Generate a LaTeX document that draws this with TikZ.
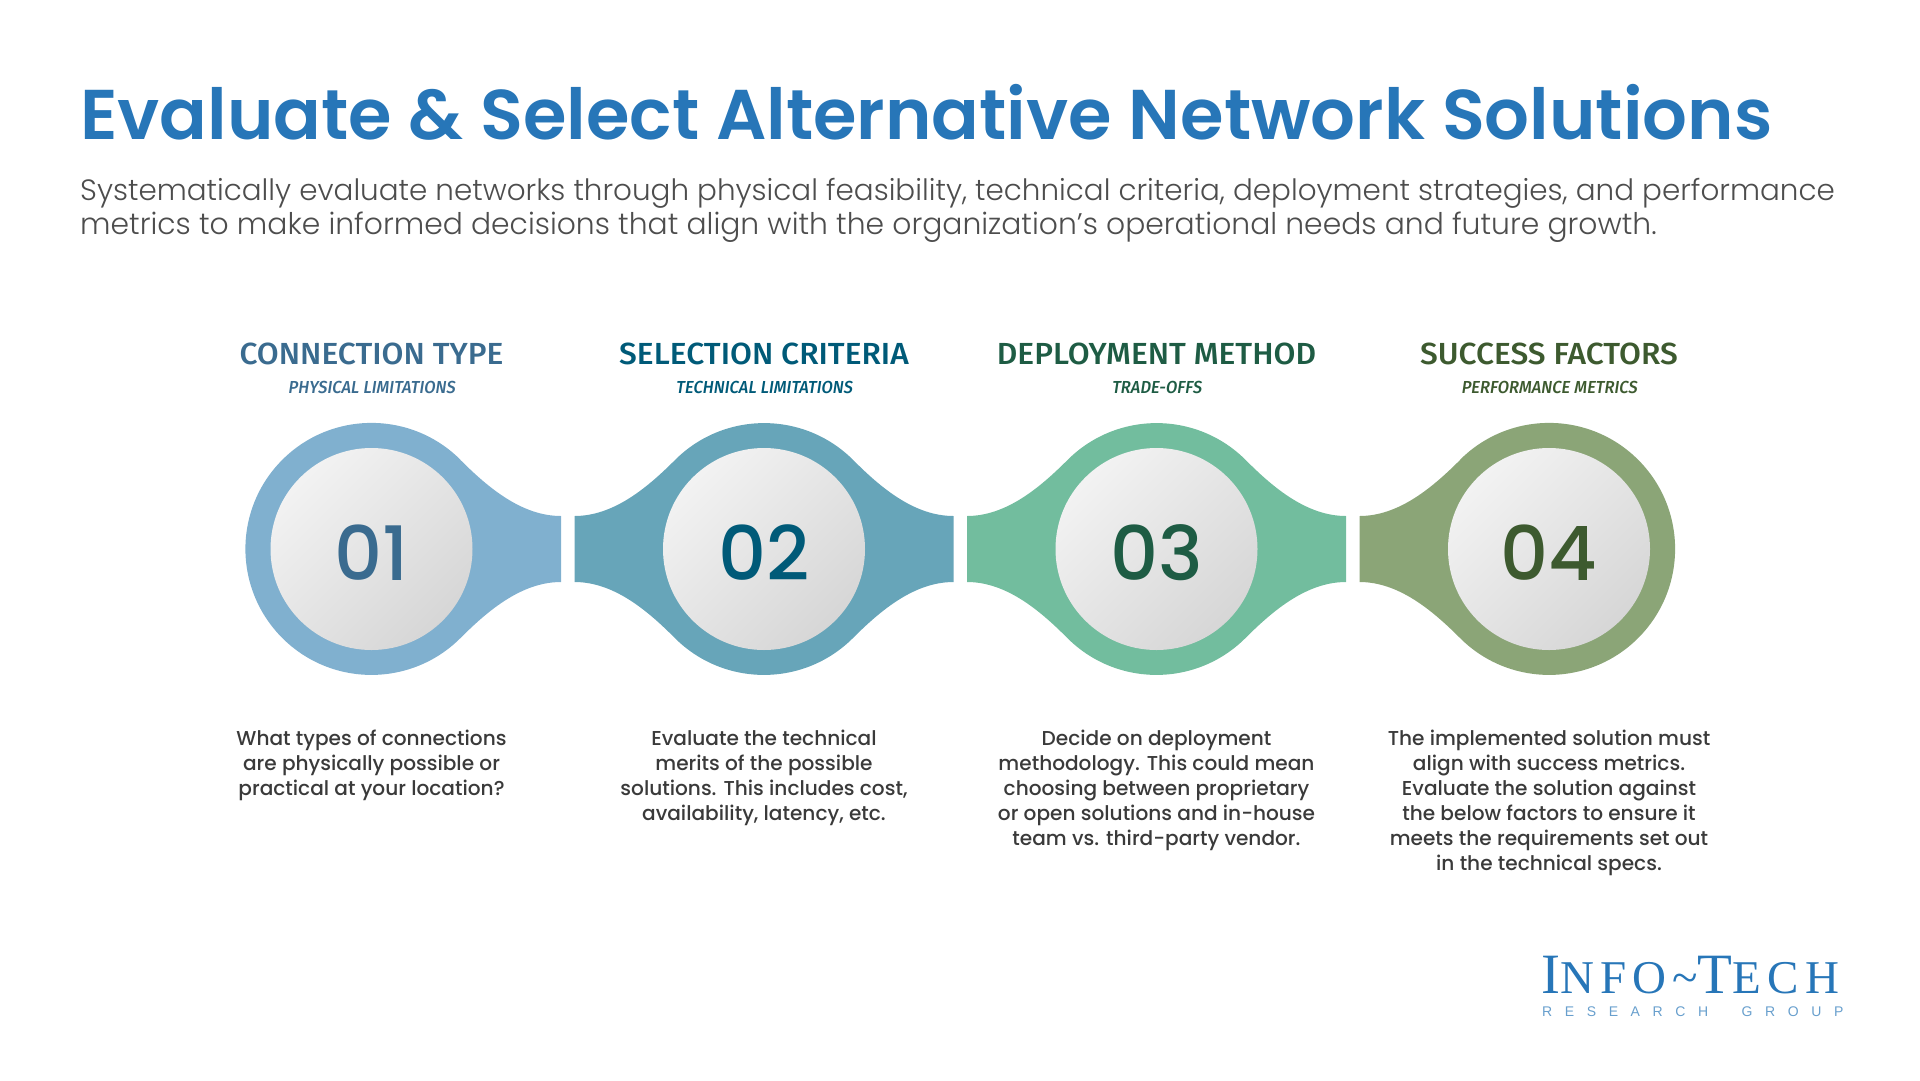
\documentclass[tikz,border=0pt]{standalone}
\usepackage{fontspec}
\newfontfamily\titlefont{Poppins SemiBold}
\newfontfamily\leadfont{Poppins Light}
\newfontfamily\bodyfont{Poppins Medium}
\newfontfamily\numfont{Poppins Medium}
\newfontfamily\headfont[FakeStretch=1.04]{Fira Sans Medium}
\newfontfamily\subfont[FakeStretch=0.94,FakeSlant=0.15]{Fira Sans Medium}
\newfontfamily\logofont[LetterSpace=13]{Liberation Serif}
\newfontfamily\logosub[LetterSpace=90]{Liberation Sans}
\definecolor{titleblue}{HTML}{2776B8}
\definecolor{leadgray}{HTML}{4D4D4D}
\definecolor{bodygray}{HTML}{3A3A3A}
\definecolor{ringa}{HTML}{80B0CF}
\definecolor{ringb}{HTML}{67A5B9}
\definecolor{ringc}{HTML}{72BD9E}
\definecolor{ringd}{HTML}{8BA577}
\definecolor{inka}{HTML}{3A6B8F}
\definecolor{inkb}{HTML}{005A78}
\definecolor{inkc}{HTML}{1E5C44}
\definecolor{inkd}{HTML}{3D5A2F}
\begin{document}
\begin{tikzpicture}[x=1pt,y=1pt]
\tikzstyle{disc}=[circle,inner sep=0pt,minimum size=202pt,top color=gray!10,bottom color=gray!32,shading angle=45]
\tikzstyle{num}=[inner sep=0pt,font=\numfont\fontsize{75}{75}\selectfont]
\tikzstyle{head}=[anchor=base,inner sep=0pt,font=\headfont\fontsize{30.5}{30.5}\selectfont]
\tikzstyle{subhead}=[anchor=base,inner sep=0pt,font=\subfont\fontsize{17.4}{17.4}\selectfont]
\tikzstyle{body}=[anchor=north,inner sep=0pt,align=center,text=bodygray,font=\bodyfont\fontsize{20.1}{25}\selectfont]
\tikzstyle{lead}=[anchor=base west,inner sep=0pt,text=leadgray]
\useasboundingbox (0,0) rectangle (1920,-1080);
\node [anchor=base west,inner sep=0pt,text=titleblue,font=\titlefont\fontsize{70.4}{70.4}\selectfont] (title) at (80,-139) {Evaluate \& Select Alternative Network Solutions};
\node [lead,font=\leadfont\fontsize{29.4}{34}\selectfont] (leadone) at (80,-200) {Systematically evaluate networks through physical feasibility, technical criteria, deployment strategies, and performance};
\node [lead,font=\leadfont\fontsize{29.8}{34}\selectfont] (leadtwo) at (80,-234) {metrics to make informed decisions that align with the organization’s operational needs and future growth.};
\fill [ringa,shift={(371.5,-549)}] (89,89) .. controls (117,61) and (150.5,33) .. (189.5,33) -- (189.5,-33) .. controls (150.5,-33) and (117,-61) .. (89,-89) arc[start angle=-45,end angle=-315,radius=126] -- cycle;
\fill [ringb,shift={(764,-549)}] (-189.5,33) .. controls (-150.5,33) and (-117,61) .. (-89,89) arc[start angle=135,end angle=45,radius=126] .. controls (117,61) and (150.5,33) .. (189.5,33) -- (189.5,-33) .. controls (150.5,-33) and (117,-61) .. (89,-89) arc[start angle=-45,end angle=-135,radius=126] .. controls (-117,-61) and (-150.5,-33) .. (-189.5,-33) -- cycle;
\fill [ringc,shift={(1156.5,-549)}] (-189.5,33) .. controls (-150.5,33) and (-117,61) .. (-89,89) arc[start angle=135,end angle=45,radius=126] .. controls (117,61) and (150.5,33) .. (189.5,33) -- (189.5,-33) .. controls (150.5,-33) and (117,-61) .. (89,-89) arc[start angle=-45,end angle=-135,radius=126] .. controls (-117,-61) and (-150.5,-33) .. (-189.5,-33) -- cycle;
\fill [ringd,shift={(1549,-549)}] (-89,89) .. controls (-117,61) and (-150.5,33) .. (-189.5,33) -- (-189.5,-33) .. controls (-150.5,-33) and (-117,-61) .. (-89,-89) arc[start angle=-135,end angle=135,radius=126] -- cycle;
\node [disc] (disca) at (371.5,-549) {};
\node [disc] (discb) at (764,-549) {};
\node [disc] (discc) at (1156.5,-549) {};
\node [disc] (discd) at (1549,-549) {};
\node [num,text=inka] (numa) at (371.5,-552.5) {01};
\node [num,text=inkb] (numb) at (764,-552.5) {02};
\node [num,text=inkc] (numc) at (1156.5,-552.5) {03};
\node [num,text=inkd] (numd) at (1549,-552.5) {04};
\node [head,text=inka] (heada) at (371.5,-364) {CONNECTION TYPE};
\node [head,text=inkb] (headb) at (764,-364) {SELECTION CRITERIA};
\node [head,text=inkc] (headc) at (1156.5,-364) {DEPLOYMENT METHOD};
\node [head,text=inkd] (headd) at (1549,-364) {SUCCESS FACTORS};
\node [subhead,text=inka] (suba) at (371.5,-393) {PHYSICAL LIMITATIONS};
\node [subhead,text=inkb] (subb) at (764,-393) {TECHNICAL LIMITATIONS};
\node [subhead,text=inkc] (subc) at (1156.5,-393) {TRADE-OFFS};
\node [subhead,text=inkd] (subd) at (1549,-393) {PERFORMANCE METRICS};
\node [body] (bodya) at (371.5,-730) {What types of connections\\are physically possible or\\practical at your location?};
\node [body] (bodyb) at (764,-730) {Evaluate the technical\\merits of the possible\\solutions. This includes cost,\\availability, latency, etc.};
\node [body] (bodyc) at (1156.5,-730) {Decide on deployment\\methodology. This could mean\\choosing between proprietary\\or open solutions and in-house\\team vs. third-party vendor.};
\node [body] (bodyd) at (1549,-730) {The implemented solution must\\align with success metrics.\\Evaluate the solution against\\the below factors to ensure it\\meets the requirements set out\\in the technical specs.};
\node [anchor=base west,inner sep=0pt,text=titleblue,font=\logofont\fontsize{47}{47}\selectfont] (logo) at (1541,-993) {{\fontsize{57}{57}\selectfont I}NFO\textasciitilde{\fontsize{57}{57}\selectfont T}ECH};
\node [anchor=base west,inner sep=0pt,text=titleblue!70,font=\logosub\fontsize{14}{14}\selectfont] (logosub) at (1542,-1016) {RESEARCH\hspace{17pt} GROUP};
\end{tikzpicture}
\end{document}
